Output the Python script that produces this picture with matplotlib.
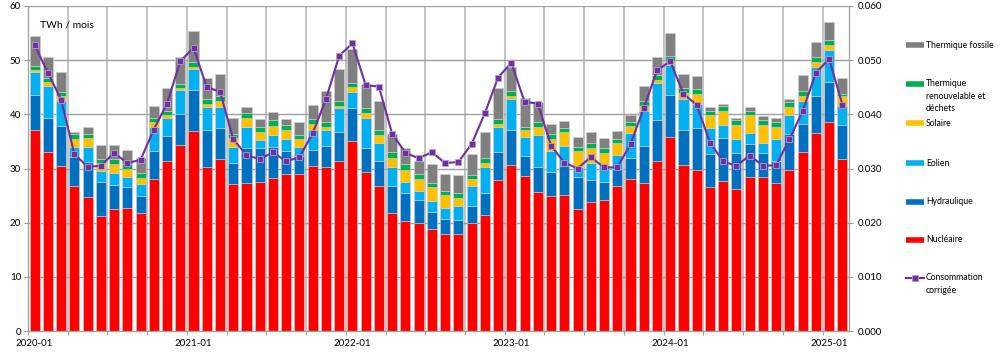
import matplotlib
matplotlib.use("Agg")
import matplotlib.pyplot as plt
from matplotlib.lines import Line2D
import numpy as np
import pandas as pd

plt.rcParams['font.family'] = ['Lato', 'DejaVu Sans']

months = pd.date_range("2020-01-01", periods=62, freq="MS").strftime("%Y-%m").tolist()

nucleaire = [37.2, 33.0, 30.5, 26.8, 24.7, 21.2, 22.5, 22.8, 21.7, 28.1, 31.4, 34.3,
             37.0, 30.3, 31.7, 27.1, 27.4, 27.6, 28.3, 29.0, 29.0, 30.5, 30.2, 31.4,
             35.1, 29.4, 26.8, 21.7, 20.4, 20.0, 18.8, 18.0, 18.0, 20.0, 21.5, 27.8,
             30.6, 28.7, 25.6, 24.9, 25.1, 22.5, 23.9, 24.1, 26.8, 28.1, 27.4, 31.4,
             35.9, 30.6, 29.8, 26.5, 27.7, 26.2, 28.4, 28.4, 27.3, 29.8, 33.0, 36.5,
             38.6, 31.8]
hydraulique = [6.4, 6.4, 7.4, 5.4, 6.5, 6.4, 4.5, 3.7, 3.3, 5.2, 4.6, 5.8,
               7.5, 6.8, 5.8, 4.0, 6.3, 6.2, 5.7, 4.3, 3.3, 3.0, 4.0, 5.4,
               6.0, 4.4, 4.5, 5.1, 5.0, 4.1, 3.2, 2.7, 2.5, 3.1, 3.9, 5.2,
               6.5, 3.7, 4.6, 4.5, 5.4, 6.0, 4.0, 3.5, 3.1, 3.8, 6.8, 7.6,
               7.7, 6.5, 7.6, 6.2, 7.9, 6.7, 6.1, 4.4, 4.0, 6.6, 5.2, 6.8,
               7.4, 6.2]
eolien = [4.3, 5.8, 4.6, 1.8, 2.8, 2.0, 2.1, 2.0, 2.1, 4.4, 3.3, 4.4,
          3.9, 4.3, 3.8, 2.9, 4.0, 1.5, 2.2, 2.1, 1.7, 3.6, 2.9, 4.3,
          3.1, 5.5, 3.5, 3.5, 2.2, 1.7, 2.0, 2.1, 2.5, 3.7, 4.9, 4.7,
          5.7, 3.4, 6.0, 3.8, 3.7, 1.8, 3.2, 3.0, 2.6, 4.6, 6.4, 6.7,
          5.5, 5.7, 4.5, 4.7, 2.4, 2.5, 2.1, 2.0, 4.1, 3.4, 4.3, 5.5,
          5.9, 3.6]
solaire = [0.3, 0.8, 0.9, 1.4, 1.6, 1.5, 1.7, 1.5, 1.1, 0.8, 0.5, 0.3,
           0.4, 0.5, 1.2, 1.6, 1.6, 1.4, 1.7, 1.8, 1.4, 1.1, 0.6, 0.5,
           0.8, 0.9, 1.4, 1.7, 2.1, 2.3, 2.5, 2.3, 1.6, 1.2, 0.8, 0.5,
           0.5, 1.3, 1.5, 2.2, 2.5, 2.9, 2.7, 2.2, 2.3, 1.4, 0.9, 0.6,
           0.8, 1.1, 1.9, 2.4, 2.6, 2.6, 3.2, 3.2, 2.3, 1.6, 0.9, 0.9,
           0.9, 1.7]
thermique_renouv = [0.8, 0.8, 0.8, 1.0, 0.8, 0.6, 0.9, 0.8, 0.9, 0.8, 0.8, 0.8,
                    0.9, 0.9, 0.8, 0.8, 0.9, 0.9, 1.1, 0.8, 0.8, 0.9, 0.9, 0.9,
                    0.7, 0.9, 1.0, 1.0, 1.1, 0.9, 0.9, 0.8, 0.8, 0.8, 0.9, 0.9,
                    1.0, 0.6, 0.9, 0.9, 0.8, 0.8, 1.0, 0.9, 0.6, 0.7, 1.0, 1.0,
                    0.9, 0.9, 0.8, 0.8, 0.9, 1.0, 0.8, 1.0, 0.9, 0.8, 0.9, 0.8,
                    0.9, 0.5]
thermique_fossile = [5.5, 3.8, 3.6, 0.3, 1.2, 2.6, 2.6, 2.7, 2.9, 2.3, 4.3, 4.9,
                     5.7, 4.0, 4.1, 3.0, 1.1, 1.5, 1.4, 1.1, 2.3, 2.6, 5.7, 5.8,
                     6.3, 4.5, 5.3, 3.4, 3.0, 2.4, 3.4, 3.1, 3.4, 3.8, 4.7, 5.8,
                     4.5, 5.4, 3.6, 2.0, 1.3, 1.9, 1.9, 1.9, 1.5, 1.3, 2.8, 3.3,
                     4.2, 2.6, 2.5, 0.7, 0.4, 0.4, 0.8, 0.7, 0.8, 0.6, 3.0, 2.8,
                     3.4, 3.0]
consommation = [52.8, 47.7, 42.7, 32.7, 30.3, 30.5, 32.9, 31.0, 31.6, 37.2, 42.0, 49.8,
                52.3, 45.0, 44.2, 35.4, 32.5, 31.7, 33.0, 31.3, 32.1, 36.5, 42.8, 50.8,
                53.1, 45.4, 45.1, 36.4, 32.9, 31.9, 33.0, 31.0, 31.2, 34.5, 40.2, 46.8,
                49.5, 42.3, 42.0, 34.2, 31.1, 30.0, 32.1, 30.2, 30.2, 34.5, 41.1, 48.1,
                49.8, 43.8, 41.7, 34.8, 31.3, 30.5, 32.4, 30.5, 30.6, 35.4, 40.6, 47.7,
                50.2, 41.8]

series = [
    ("Nucléaire", nucleaire, "#FF0000"),
    ("Hydraulique", hydraulique, "#0070C0"),
    ("Eolien", eolien, "#00B0F0"),
    ("Solaire", solaire, "#FFC000"),
    ("Thermique\nrenouvelable et\ndéchets", thermique_renouv, "#00B050"),
    ("Thermique fossile", thermique_fossile, "#808080"),
]

fig = plt.figure(figsize=(10, 3.55), dpi=100)
ax = fig.add_axes([0.028, 0.0676, 0.821, 0.9155])
x = np.arange(len(months))
bottom = np.zeros(len(months))
for name, vals, col in series:
    v = np.array(vals)
    ax.bar(x, v, bottom=bottom, width=0.76, color=col, edgecolor="#d0d0d0",
           linewidth=0.4, zorder=2)
    bottom += v

ax.set_xlim(-0.5, len(months) - 0.5)
ax.set_ylim(0, 60)
ax.set_yticks(np.arange(0, 61, 10))
ax.grid(axis="y", color="#a0a0a0", linewidth=1.0, zorder=0)
ax.set_xticks(np.arange(-0.5, len(months), 3))
ax.set_xticklabels([])
ax.grid(axis="x", which="major", color="#c4c4c4", linewidth=1.4, zorder=0)
ax.tick_params(axis="x", which="major", length=3, color="#a0a0a0", width=0.8)
ax.set_xticks(np.arange(0, len(months), 12), minor=True)
ax.set_xticklabels([months[i] for i in range(0, len(months), 12)], minor=True, fontsize=7)
ax.tick_params(axis="x", which="minor", length=0, pad=6)
ax.tick_params(axis="y", length=3, color="#a0a0a0", labelsize=7, pad=2)
for s in ["top", "right"]:
    ax.spines[s].set_visible(False)
for s in ["left", "bottom"]:
    ax.spines[s].set_color("#a0a0a0")
    ax.spines[s].set_linewidth(0.9)
ax.text(0.015, 0.955, "TWh / mois", transform=ax.transAxes, fontsize=7.5,
        va="top", ha="left")

ax2 = ax.twinx()
ax2.set_ylim(0, 0.06)
ax2.set_yticks(np.arange(0, 0.0601, 0.01))
ax2.set_yticklabels([f"{t:.3f}" for t in np.arange(0, 0.0601, 0.01)])
ax2.tick_params(axis="y", length=3, color="#a0a0a0", labelsize=7, pad=3)
for s in ["top", "left", "bottom"]:
    ax2.spines[s].set_visible(False)
ax2.spines["right"].set_color("#a0a0a0")
ax2.spines["right"].set_linewidth(0.9)
ax2.plot(x, np.array(consommation) / 1000.0, color="#7030A0", linewidth=1.5,
         marker="s", markersize=4, markerfacecolor="#7030A0",
         markeredgecolor="#b4a0d0", markeredgewidth=0.6, zorder=5)

# legend drawn manually at the right
H = 355.0
def fy(py):
    return 1 - py / H
entries = [
    (45, ["Thermique fossile"], "#808080", False),
    (84, ["Thermique", "renouvelable et", "déchets"], "#00B050", False),
    (123, ["Solaire"], "#FFC000", False),
    (163, ["Eolien"], "#00B0F0", False),
    (202, ["Hydraulique"], "#0070C0", False),
    (240, ["Nucléaire"], "#FF0000", False),
    (278, ["Consommation", "corrigée"], "#7030A0", True),
]
for py, lines, col, is_line in entries:
    if is_line:
        fig.add_artist(Line2D([0.906, 0.924], [fy(py), fy(py)], color=col,
                              linewidth=1.5, transform=fig.transFigure))
        fig.add_artist(Line2D([0.915], [fy(py)], color=col, linestyle="none",
                              marker="s", markersize=4,
                              markeredgecolor="#b4a0d0", markeredgewidth=0.6,
                              transform=fig.transFigure))
    else:
        fig.add_artist(Line2D([0.906, 0.924], [fy(py), fy(py)], color=col,
                              linewidth=4, solid_capstyle="butt",
                              transform=fig.transFigure))
    for k, t in enumerate(lines):
        fig.text(0.926, fy(py + 12.2 * k), t, fontsize=6.2, va="center", ha="left")

fig.savefig("out.png", dpi=100)
